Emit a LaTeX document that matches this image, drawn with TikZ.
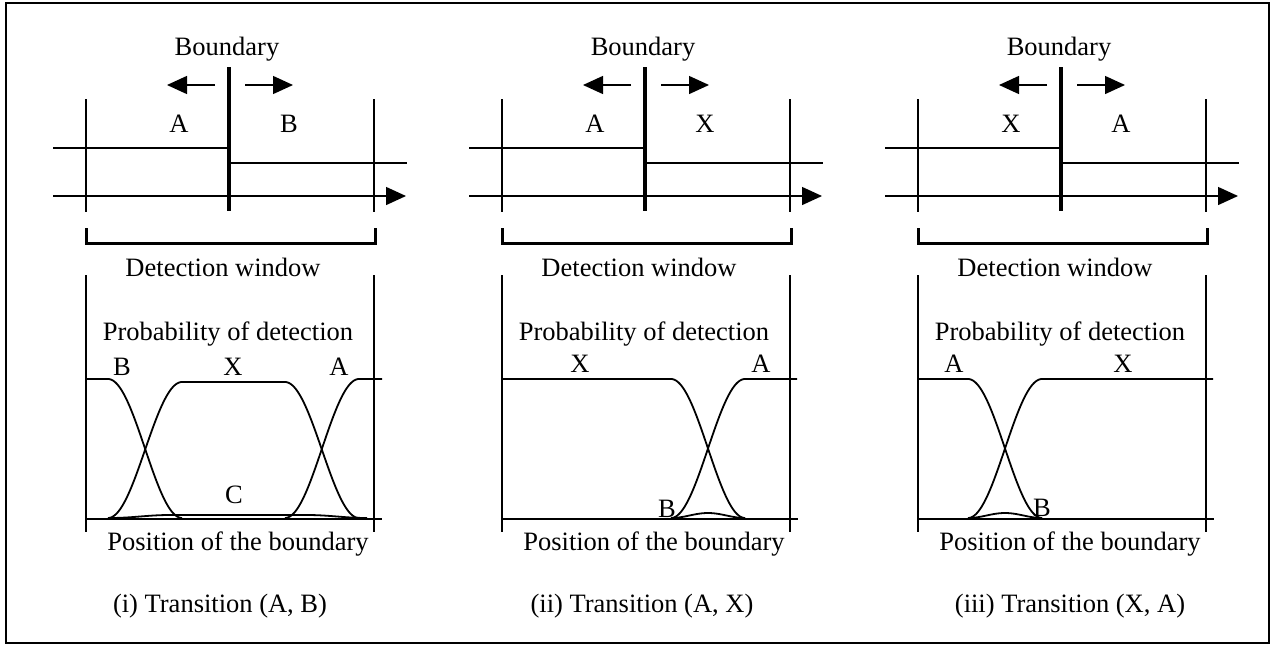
\documentclass[tikz,border=0pt]{standalone}
\usepackage{fontspec}
\setmainfont{Liberation Serif}
\usetikzlibrary{arrows.meta}
\tikzset{
  lnthin/.style={line width=1.4pt},
  lnaxis/.style={line width=2pt},
  lnbound/.style={line width=4pt},
  lnbracket/.style={line width=3pt},
  lncurve/.style={line width=1.8pt, line join=round},
  lnframe/.style={line width=2pt},
  tipped/.style={lnthin, -{Triangle[length=20pt,width=18pt]}},
  txt/.style={font=\fontsize{26.5}{30}\selectfont, inner sep=0pt, anchor=base},
}
\newcommand\toppanel[4]{%
  \begin{scope}[xshift=#2pt]
    \coordinate (#1bt) at (229,67);  \coordinate (#1bb) at (229,211);
    \coordinate (#1la) at (215,85);  \coordinate (#1lb) at (167,85);
    \coordinate (#1ra) at (245,85);  \coordinate (#1rb) at (293,85);
    \coordinate (#1vlt) at (86,99);  \coordinate (#1vlb) at (86,212);
    \coordinate (#1vrt) at (374,99); \coordinate (#1vrb) at (374,212);
    \coordinate (#1sl) at (53,148);  \coordinate (#1sm) at (229,148);
    \coordinate (#1sn) at (229,163); \coordinate (#1sr) at (407,163);
    \coordinate (#1al) at (53,196);  \coordinate (#1ar) at (406,196);
    \coordinate (#1k1) at (86,228);  \coordinate (#1k2) at (86,243);
    \coordinate (#1k3) at (375,243); \coordinate (#1k4) at (375,228);
    \coordinate (#1plt) at (86,275); \coordinate (#1plb) at (86,532);
    \coordinate (#1prt) at (374,275);\coordinate (#1prb) at (374,532);
    \coordinate (#1bl) at (86,518.5);  \coordinate (#1br) at (382,518.5);
    \draw[lnthin] (#1vlt) -- (#1vlb);
    \draw[lnthin] (#1vrt) -- (#1vrb);
    \draw[lnthin] (#1sl) -- (#1sm);
    \draw[lnthin] (#1sn) -- (#1sr);
    \draw[tipped] (#1al) -- (#1ar);
    \draw[lnbound] (#1bt) -- (#1bb);
    \draw[tipped] (#1la) -- (#1lb);
    \draw[tipped] (#1ra) -- (#1rb);
    \draw[lnbracket] (#1k1) -- (#1k2) -- (#1k3) -- (#1k4);
    \draw[lnthin] (#1plt) -- (#1plb);
    \draw[lnthin] (#1prt) -- (#1prb);
    \draw[lnaxis] (#1bl) -- (#1br);
    \node[txt] (#1bnd) at (227,55) {Boundary};
    \node[txt] (#1lt) at (179,132) {#3};
    \node[txt] (#1rt) at (289,132) {#4};
    \node[txt] (#1dw) at (223,276) {Detection window};
    \node[txt] (#1pd) at (228,340) {Probability of detection};
    \node[txt] (#1pb) at (238,550) {Position of the boundary};
  \end{scope}}
\begin{document}
\begin{tikzpicture}[x=1pt,y=-1pt]
  \useasboundingbox (0,0) rectangle (1272,646);
  \draw[lnframe] (6,3) rectangle (1269,643);
  \toppanel{p1}{0}{A}{B}
  \toppanel{p2}{416}{A}{X}
  \toppanel{p3}{832}{X}{A}
  % ---------- panel 1 curves ----------
  \draw[lncurve] (86,379) -- plot[domain=108:182,samples=60] (\x,{379+139*(1-cos(90*(\x-108)/37))/2});
  \draw[lncurve] plot[domain=108:182,samples=60] (\x,{518-136*(1-cos(90*(\x-108)/37))/2})
     -- (285,382) -- plot[domain=285:359,samples=60] (\x,{382+136*(1-cos(90*(\x-285)/37))/2});
  \draw[lncurve] plot[domain=285:359,samples=60] (\x,{518-139*(1-cos(90*(\x-285)/37))/2}) -- (382,379);
  \draw[lncurve] plot[domain=110:170,samples=30] (\x,{518-3*(1-cos(3*(\x-110)))/2})
     -- (307,515) -- plot[domain=307:367,samples=30] (\x,{515+3*(1-cos(3*(\x-307)))/2});
  \node[txt] (p1B) at (122,375) {B};
  \node[txt] (p1X) at (233,375) {X};
  \node[txt] (p1A) at (339,375) {A};
  \node[txt] (p1C) at (234,503) {C};
  \node[txt] (p1T) at (220,612) {(i) Transition (A, B)};
  % ---------- panel 2 curves ----------
  \draw[lncurve] (502,379) -- plot[domain=671:745,samples=60] (\x,{379+139*(1-cos(90*(\x-671)/37))/2});
  \draw[lncurve] plot[domain=671:745,samples=60] (\x,{518-139*(1-cos(90*(\x-671)/37))/2}) -- (797,379);
  \draw[lncurve] plot[domain=671:745,samples=60] (\x,{518-5*(1-cos(4.8649*(\x-671)))/2});
  \node[txt] (p2X) at (580,372) {X};
  \node[txt] (p2A) at (761,372) {A};
  \node[txt] (p2B) at (667,517) {B};
  \node[txt] (p2T) at (642,612) {(ii) Transition (A, X)};
  % ---------- panel 3 curves ----------
  \draw[lncurve] (918,379) -- plot[domain=968:1042,samples=60] (\x,{379+139*(1-cos(90*(\x-968)/37))/2});
  \draw[lncurve] plot[domain=968:1042,samples=60] (\x,{518-139*(1-cos(90*(\x-968)/37))/2}) -- (1213,379);
  \draw[lncurve] plot[domain=968:1042,samples=60] (\x,{518-5*(1-cos(4.8649*(\x-968)))/2});
  \node[txt] (p3A) at (954,372) {A};
  \node[txt] (p3X) at (1123,372) {X};
  \node[txt] (p3B) at (1042,516) {B};
  \node[txt] (p3T) at (1070,612) {(iii) Transition (X, A)};
\end{tikzpicture}
\end{document}
